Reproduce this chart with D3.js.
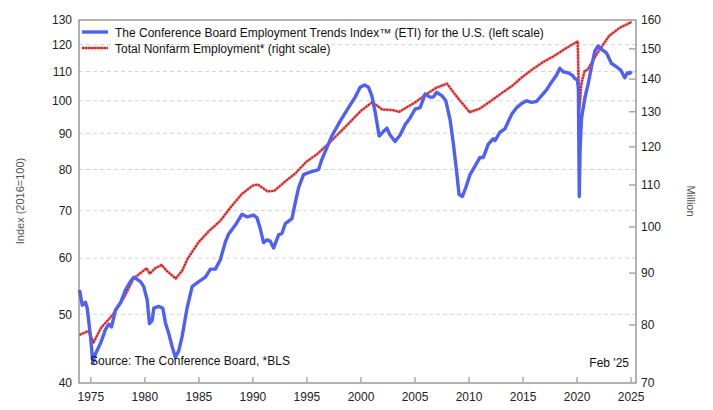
<!DOCTYPE html>
<html>
<head>
<meta charset="utf-8">
<script src="https://cdn.jsdelivr.net/npm/d3@7"></script>
<style>
  html, body { margin: 0; padding: 0; background: #fff; }
  svg { display: block; font-family: "Liberation Sans", Arial, sans-serif; }
</style>
</head>
<body>
<svg id="chart" width="713" height="410"></svg>
<script>
// ---------- DATA ----------
const etiYears = [1974.00,1974.25,1974.55,1974.71,1975.02,1975.23,1975.48,1975.94,1976.40,1976.71,1976.96,1977.33,1977.79,1978.25,1978.71,1979.02,1979.33,1979.64,1979.94,1980.26,1980.47,1980.72,1980.87,1981.33,1981.70,1981.95,1982.25,1982.57,1982.87,1983.18,1983.49,1983.95,1984.42,1985.03,1985.65,1986.11,1986.57,1987.03,1987.49,1987.80,1988.42,1989.04,1989.50,1990.11,1990.42,1990.73,1991.03,1991.35,1991.65,1991.96,1992.42,1992.73,1993.04,1993.66,1993.96,1994.27,1994.73,1995.19,1996.12,1996.43,1996.89,1997.35,1998.12,1998.89,1999.51,1999.97,2000.37,2000.74,2001.05,2001.36,2001.73,2002.12,2002.44,2002.74,2003.20,2003.67,2004.13,2004.59,2005.05,2005.52,2005.98,2006.44,2006.74,2007.06,2007.52,2007.89,2008.29,2008.59,2008.91,2009.12,2009.43,2009.74,2010.14,2010.60,2011.06,2011.37,2011.83,2012.29,2012.45,2012.91,2013.37,2013.99,2014.45,2014.91,2015.38,2015.84,2016.30,2016.76,2017.22,2017.69,2018.15,2018.45,2018.76,2019.22,2019.59,2019.84,2020.08,2020.17,2020.25,2020.33,2020.46,2020.77,2021.07,2021.38,2021.69,2021.99,2022.31,2022.77,2023.23,2023.69,2024.09,2024.46,2024.71,2024.92,2025.08];
const etiValues = [54.1,51.5,52,51,46.5,42.7,44,45.5,47.6,48.4,48,50.7,51.9,54.1,55.6,56.4,56,55.6,54.7,52.4,48.5,49,51,51.3,51,48.6,47,45,43.5,44.4,46.5,51,54.7,55.6,56.4,57.9,57.9,59.7,63.2,64.9,66.8,69.2,68.6,69.0,68.4,66.0,63.1,63.7,63.4,62.0,64.7,65,67.1,68.2,71.8,75.4,78.7,79.2,80,82.7,85.9,89.2,93.6,97.8,101.2,104.5,105.3,104.5,101.7,96.4,89.2,90.5,91.5,89.5,87.6,89.5,92.5,94.6,97.3,97.8,102.2,101.2,101.2,102.8,101.7,100.1,94.1,87.2,79.2,73.8,73.3,75.4,78.7,80.9,83.2,83.2,86.9,88.4,87.9,90.3,91.3,95.7,97.8,99.1,100,99.5,99.8,101.7,103.6,106.3,108.7,111.1,109.9,109.5,108.7,107.5,107,104,73.3,86,94.6,101,105.6,111.7,117.5,119.5,118.2,116.8,112.9,111.7,110.5,107.8,109.5,109.3,110];

const nfYears = [1974.0,1974.8,1975.3,1976.0,1977.0,1978.0,1979.0,1980.2,1980.5,1981.0,1981.6,1982.0,1982.9,1983.5,1984.0,1985.0,1986.0,1987.0,1988.0,1989.0,1990.0,1990.5,1991.4,1992.0,1993.0,1994.0,1995.0,1996.0,1997.0,1998.0,1999.0,2000.0,2001.1,2002.0,2003.0,2003.6,2004.0,2005.0,2006.0,2007.0,2008.0,2009.0,2010.1,2011.0,2012.0,2013.0,2014.0,2015.0,2016.0,2017.0,2018.0,2019.0,2020.1,2020.25,2020.33,2020.42,2020.5,2020.75,2021.0,2022.0,2023.0,2024.0,2025.1];
const nfValues = [78.1,78.8,76.8,79.4,81.6,84.6,88.8,90.9,89.8,90.9,91.6,90.5,88.8,90.4,92.9,96.4,99.0,101.2,104.5,107.6,109.7,110.0,108.3,108.4,110.7,112.9,115.9,117.9,120.6,123.6,126.7,130.0,132.7,130.5,130.3,129.8,130.6,132.5,134.9,137.1,138.4,134.0,129.7,130.7,132.9,135.3,137.6,140.6,143.2,145.6,147.6,150.0,152.4,130.4,133.0,137.6,139.2,142.5,142.8,148.8,154.3,157.2,159.3];

const leftTicks = [40,50,60,70,80,90,100,110,120,130];
const gridTicks = [50,60,70,80,90,100,110,120];
const rightTicks = [70,80,90,100,110,120,130,140,150,160];
const xTicks = [1975,1980,1985,1990,1995,2000,2005,2010,2015,2020,2025];

const legendLabels = ["The Conference Board Employment Trends Index\u2122 (ETI) for the U.S. (left scale)",
                      "Total Nonfarm Employment* (right scale)"];

// ---------- CHART ----------
const svg = d3.select("#chart");
const L = 79, R = 636, T = 20, B = 383;

const x = d3.scaleLinear().domain([1973.95, 2025.5]).range([L, R]);
const yL = d3.scaleLog().domain([40, 130]).range([B, T]);
const yR = d3.scaleLog().domain([70, 160]).range([B, T]);

// gridlines
svg.append("g").selectAll("line").data(gridTicks).join("line")
  .attr("x1", L).attr("x2", R)
  .attr("y1", d => yL(d)).attr("y2", d => yL(d))
  .attr("stroke", "#d4d4d4").attr("stroke-width", 1).attr("stroke-dasharray", "4,3");

// lines
const eti = etiYears.map((t, i) => [t, etiValues[i]]);
const nf = nfYears.map((t, i) => [t, nfValues[i]]);

const lineL = d3.line().x(d => x(d[0])).y(d => yL(d[1]));
const lineR = d3.line().x(d => x(d[0])).y(d => yR(d[1]));

function redStyle(sel, base) {
  return base
    ? sel.attr("fill", "none").attr("stroke", "#ee8a8a").attr("stroke-width", 2.8).attr("stroke-linejoin", "round")
    : sel.attr("fill", "none").attr("stroke", "#d81818").attr("stroke-width", 1.8).attr("stroke-dasharray", "2.2,0.9");
}

redStyle(svg.append("path").datum(nf).attr("d", lineR), true);
redStyle(svg.append("path").datum(nf).attr("d", lineR), false);

svg.append("path").datum(eti).attr("d", lineL)
  .attr("fill", "none").attr("stroke", "#4f60f6").attr("stroke-width", 3.4).attr("stroke-linejoin", "round");

// frame
svg.append("rect").attr("x", L).attr("y", T).attr("width", R - L).attr("height", B - T)
  .attr("fill", "none").attr("stroke", "#666").attr("stroke-width", 1);

// axes
const gl = svg.append("g").attr("transform", `translate(${L},0)`)
  .call(d3.axisLeft(yL).tickValues(leftTicks).tickFormat(d3.format("d")).tickSize(0).tickPadding(7));
const gr = svg.append("g").attr("transform", `translate(${R},0)`)
  .call(d3.axisRight(yR).tickValues(rightTicks).tickFormat(d3.format("d")).tickSize(-7).tickPadding(5));
const gb = svg.append("g").attr("transform", `translate(0,${B})`)
  .call(d3.axisBottom(x).tickValues(xTicks).tickFormat(d3.format("d")).tickSize(-6).tickPadding(9.5));

[gl, gr, gb].forEach(g => {
  g.select(".domain").remove();
  g.selectAll("text").attr("font-size", 12).attr("fill", "#222")
    .attr("font-family", "'Liberation Sans', Arial, sans-serif");
  g.selectAll(".tick line").attr("stroke", "#aaa").attr("stroke-width", 1.5);
});
gr.selectAll(".tick").filter(d => d === 70 || d === 160).select("line").remove();

// axis titles
svg.append("text").attr("transform", "translate(24,201) rotate(-90)")
  .attr("text-anchor", "middle").attr("font-size", 11).attr("fill", "#555")
  .text("Index (2016=100)");
svg.append("text").attr("transform", "translate(687,201) rotate(90)")
  .attr("text-anchor", "middle").attr("font-size", 11).attr("fill", "#555")
  .text("Million");

// legend
svg.append("line").attr("x1", 82).attr("x2", 108).attr("y1", 32).attr("y2", 32)
  .attr("stroke", "#4f60f6").attr("stroke-width", 3.4);
redStyle(svg.append("line").attr("x1", 82).attr("x2", 108).attr("y1", 48).attr("y2", 48), true);
redStyle(svg.append("line").attr("x1", 82).attr("x2", 108).attr("y1", 48).attr("y2", 48), false);
svg.append("g").selectAll("text").data(legendLabels).join("text")
  .attr("x", 115).attr("y", (d, i) => 36.5 + i * 16)
  .attr("font-size", 12).attr("fill", "#111").text(d => d);

// notes
svg.append("text").attr("x", 90).attr("y", 365).attr("font-size", 12).attr("fill", "#111")
  .text("Source: The Conference Board, *BLS");
svg.append("text").attr("x", 629).attr("y", 367).attr("text-anchor", "end")
  .attr("font-size", 12).attr("fill", "#111").text("Feb '25");
</script>
</body>
</html>
